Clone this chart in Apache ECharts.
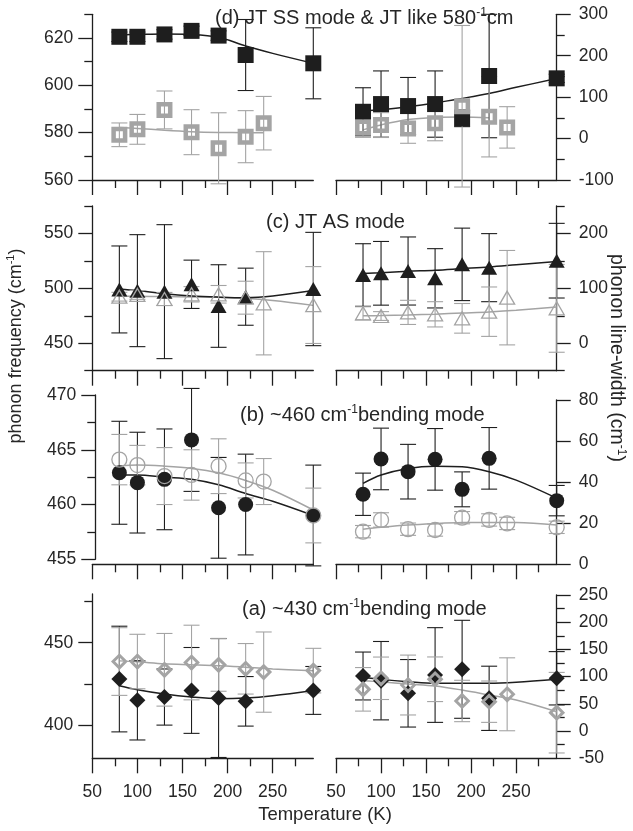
<!DOCTYPE html>
<html>
<head>
<meta charset="utf-8">
<script src="https://cdn.jsdelivr.net/npm/echarts@6/dist/echarts.min.js"></script>
<style>
  html, body { margin: 0; padding: 0; background: #fff; }
  #chart { width: 633px; height: 831px; }
</style>
</head>
<body>
<div id="chart"></div>
<script>
// ---- temperatures (K) ----
const xMajorTicks = [50, 100, 150, 200, 250];
const xMinorTicks = [75, 125, 175, 225, 275];
const tempBlack = [80, 100, 130, 160, 190, 220, 295];
const tempGrey = [80, 100, 130, 160, 190, 220, 240, 295];
const tempGreyD = [80, 100, 130, 160, 190, 220, 240];
const fitTemp = [80, 100, 130, 160, 190, 220, 250, 295];
const fitTempGreyD = [80, 100, 130, 160, 190, 220, 240];
const fitTempGreyDWidth = [80, 100, 130, 160, 190, 220];

// ---- (d) JT SS mode & JT-like 580 mode ----
const dFreqTicks = [560, 580, 600, 620];
const dFreqMinorTicks = [570, 590, 610, 630];
const dWidthTicks = [-100, 0, 100, 200, 300];
const dWidthMinorTicks = [-50, 50, 150, 250];
const dFreqBlack = [620.5, 620.5, 621.5, 623.0, 621.0, 612.8, 609.3];
const dFreqBlackErr = [2, 2, 2, 2, 2, 15, 15];
const dFreqGrey = [579.1, 581.4, 589.6, 580.2, 573.4, 578.3, 584.0];
const dFreqGreyErr = [5, 6.3, 8, 9.5, 15, 11, 11.3];
const dWidthBlack = [64.7, 83.3, 78.5, 83.3, 48.8, 151, 145.4];
const dWidthBlackErr = [58, 80, 69, 80, 20, 149, 10];
const dWidthGrey = [27, 32.6, 24.6, 36.7, 78, 52.7, 27];
const dWidthGreyErr = [24, 30, 36, 42, 195, 97, 50];
const dFreqBlackFit = [621.3, 621.5, 621.7, 621.5, 620.3, 616.6, 613.5, 609.3];
const dFreqGreyFit = [582.2, 581.8, 581.0, 580.4, 580.1, 580.0, 580.0];
const dWidthBlackFit = [66.5, 70, 77, 86, 97, 109, 123.7, 145];
const dWidthGreyFit = [21, 33, 46, 51, 52, 50];

// ---- (c) JT AS mode ----
const cFreqTicks = [450, 500, 550];
const cFreqMinorTicks = [425, 475, 525, 575];
const cWidthTicks = [0, 100, 200];
const cWidthMinorTicks = [-50, 50, 150, 250];
const cFreqBlack = [499.0, 497.9, 497.0, 503.7, 483.9, 492.4, 499.4];
const cFreqBlackErr = [39.6, 51, 61, 22, 37.6, 26, 51.6];
const cFreqGrey = [492.4, 494.0, 490.3, 494.6, 494.6, 491.5, 486.4, 484.8];
const cFreqGreyErr = [4, 4, 6, 7, 8, 15, 47, 35];
const cWidthBlack = [124.3, 127.4, 131.6, 118.3, 143.7, 137.7, 150.4];
const cWidthBlackErr = [57, 58, 62, 54, 66, 62, 68];
const cWidthGrey = [54.5, 49.6, 56.2, 52.7, 45.4, 57.5, 83.0, 63.6];
const cWidthGreyErr = [12, 8, 22, 23, 27, 45, 86, 80];
const cFreqBlackFit = [499.5, 498, 495, 493, 492, 491.5, 493, 498];
const cFreqGreyFit = [493, 492.8, 492.5, 492.2, 491.8, 491, 489, 484.5];
const cWidthBlackFit = [127, 128.5, 131, 133, 136, 139, 143, 149];
const cWidthGreyFit = [50, 50.5, 51.5, 53, 55, 57, 60, 66];

// ---- (b) ~460 cm-1 bending mode ----
const bFreqTicks = [455, 460, 465, 470];
const bFreqMinorTicks = [457.5, 462.5, 467.5];
const bWidthTicks = [0, 20, 40, 60, 80];
const bWidthMinorTicks = [];
const bFreqBlack = [462.9, 462.0, 462.3, 465.9, 459.7, 460.0, 459.0];
const bFreqBlackErr = [4.7, 4.6, 4.6, 4.7, 4.6, 4.6, 4.6];
const bFreqGrey = [464.1, 463.6, 462.6, 462.7, 463.5, 462.2, 462.1, 459.0];
const bFreqGreyErr = [2.3, 1.8, 2.6, 2.3, 2.5, 1.6, 2.1, 2.5];
const bWidthBlack = [34.1, 51.3, 45.1, 51.1, 36.5, 51.6, 31.0];
const bWidthBlackErr = [10.3, 15, 13.3, 15, 8.5, 15, 7.4];
const bWidthGrey = [15.9, 21.6, 17.1, 16.7, 22.7, 21.6, 19.9, 18.0];
const bWidthGreyErr = [3, 3.5, 3, 3, 3, 3, 3, 3];
const bFreqBlackFit = [462.7, 462.7, 462.5, 462.3, 461.8, 461.0, 460.3, 459.0];
const bFreqGreyFit = [463.5, 463.6, 463.5, 463.3, 462.9, 462.2, 461.3, 459.5];
const bWidthBlackFit = [39.4, 43.5, 46.7, 47.8, 47.5, 45.1, 41, 32.2];
const bWidthGreyFit = [17.1, 18, 19.1, 19.8, 20.3, 20.4, 20.3, 19.1];

// ---- (a) ~430 cm-1 bending mode ----
const aFreqTicks = [400, 450];
const aFreqMinorTicks = [425, 475];
const aWidthTicks = [-50, 0, 50, 100, 150, 200, 250];
const aWidthMinorTicks = [-25, 25, 75, 125, 175, 225];
const aFreqBlack = [428.0, 415.1, 417.1, 421.1, 416.5, 414.5, 421.1];
const aFreqBlackErr = [32, 24, 17, 26, 36, 15, 14.5];
const aFreqGrey = [438.6, 438.6, 433.6, 438.0, 436.6, 434.2, 432.2, 433.1];
const aFreqGreyErr = [20.5, 16.5, 22, 22.6, 16, 15.3, 24.3, 13.5];
const aWidthBlack = [101.2, 92.6, 69.4, 103.0, 113.5, 60.2, 97.0];
const aWidthBlackErr = [44, 72, 62, 87, 90, 59, 49];
const aWidthGrey = [76.7, 97.0, 84.6, 95.2, 55.3, 54.0, 67.6, 33.8];
const aWidthGreyErr = [40, 39, 55, 41, 38, 38, 67, 74];
const aFreqBlackFit = [423.9, 421.5, 418.9, 417.1, 416.1, 416.5, 417.9, 421.1];
const aFreqGreyFit = [439, 438.4, 437.2, 436.6, 436, 435.2, 434.1, 433];
const aWidthBlackFit = [98.8, 95, 90.8, 87.8, 87.8, 87.8, 89.7, 95.2];
const aWidthGreyFit = [92.6, 90.5, 86.5, 82.8, 75.4, 66.3, 57, 35.6];

// ---- styling ----
const FONT = '"Liberation Sans", Arial, Helvetica, sans-serif';
const INK = '#1e1e1e';
const TEXT = '#262626';
const GREY = '#a4a4a4';

const markers = {
  d: { black: { symbol: 'rect', size: 16 }, grey: { symbol: 'rect', size: 11.5, border: 4.5 } },
  c: { black: { symbol: 'triangle', size: [16, 14] }, grey: { symbol: 'triangle', size: [15, 13], border: 1.3 } },
  b: { black: { symbol: 'circle', size: 15 }, grey: { symbol: 'circle', size: 15, border: 1.3 } },
  a: { black: { symbol: 'diamond', size: 16 }, grey: { symbol: 'diamond', size: 12.5, border: 3 } }
};

// each panel is split: frequency on the left half, line-width on the right half
const halves = [
  { mk: 'd', side: 'left', left: 92.3, top: 14.3, width: 221, height: 165.7, yMin: 560, yMax: 630,
    major: dFreqTicks, minor: dFreqMinorTicks,
    black: [tempBlack, dFreqBlack, dFreqBlackErr], grey: [tempGreyD, dFreqGrey, dFreqGreyErr],
    blackFit: [fitTemp, dFreqBlackFit], greyFit: [fitTempGreyD, dFreqGreyFit] },
  { mk: 'd', side: 'right', left: 336, top: 14.3, width: 220.7, height: 165.7, yMin: -100, yMax: 300,
    major: dWidthTicks, minor: dWidthMinorTicks,
    black: [tempBlack, dWidthBlack, dWidthBlackErr], grey: [tempGreyD, dWidthGrey, dWidthGreyErr],
    blackFit: [fitTemp, dWidthBlackFit], greyFit: [fitTempGreyDWidth, dWidthGreyFit] },
  { mk: 'c', side: 'left', left: 92.3, top: 206, width: 221, height: 164.7, yMin: 425, yMax: 575,
    major: cFreqTicks, minor: cFreqMinorTicks,
    black: [tempBlack, cFreqBlack, cFreqBlackErr], grey: [tempGrey, cFreqGrey, cFreqGreyErr],
    blackFit: [fitTemp, cFreqBlackFit], greyFit: [fitTemp, cFreqGreyFit] },
  { mk: 'c', side: 'right', left: 336, top: 206, width: 220.7, height: 164.7, yMin: -50, yMax: 250,
    major: cWidthTicks, minor: cWidthMinorTicks,
    black: [tempBlack, cWidthBlack, cWidthBlackErr], grey: [tempGrey, cWidthGrey, cWidthGreyErr],
    blackFit: [fitTemp, cWidthBlackFit], greyFit: [fitTemp, cWidthGreyFit] },
  { mk: 'b', side: 'left', left: 92.3, top: 395, width: 221, height: 164.3, yMin: 455, yMax: 470,
    xOffset: 5, yOffset: -3,
    major: bFreqTicks, minor: bFreqMinorTicks,
    black: [tempBlack, bFreqBlack, bFreqBlackErr], grey: [tempGrey, bFreqGrey, bFreqGreyErr],
    blackFit: [fitTemp, bFreqBlackFit], greyFit: [fitTemp, bFreqGreyFit] },
  { mk: 'b', side: 'right', left: 336, top: 400, width: 220.7, height: 164.3, yMin: 0, yMax: 80,
    major: bWidthTicks, minor: bWidthMinorTicks,
    black: [tempBlack, bWidthBlack, bWidthBlackErr], grey: [tempGrey, bWidthGrey, bWidthGreyErr],
    blackFit: [fitTemp, bWidthBlackFit], greyFit: [fitTemp, bWidthGreyFit] },
  { mk: 'a', side: 'left', left: 92.3, top: 594, width: 221, height: 164.3, yMin: 380, yMax: 479.5,
    major: aFreqTicks, minor: aFreqMinorTicks, xLabels: true,
    black: [tempBlack, aFreqBlack, aFreqBlackErr], grey: [tempGrey, aFreqGrey, aFreqGreyErr],
    blackFit: [fitTemp, aFreqBlackFit], greyFit: [fitTemp, aFreqGreyFit] },
  { mk: 'a', side: 'right', left: 336, top: 595, width: 220.7, height: 163.3, yMin: -50, yMax: 250,
    major: aWidthTicks, minor: aWidthMinorTicks, xLabels: true,
    black: [tempBlack, aWidthBlack, aWidthBlackErr], grey: [tempGrey, aWidthGrey, aWidthGreyErr],
    blackFit: [fitTemp, aWidthBlackFit], greyFit: [fitTemp, aWidthGreyFit] }
];

function points(t, v, e) {
  return t.map((x, i) => e ? [x, v[i], e[i]] : [x, v[i]]);
}

// vertical error bar with caps, positioned through the axis scales
function errorBar(color) {
  return function (params, api) {
    const x = api.value(0), y = api.value(1), e = api.value(2);
    const hi = api.coord([x, y + e]);
    const lo = api.coord([x, y - e]);
    const cap = 8;
    const st = { stroke: color, lineWidth: 1.1, fill: null };
    return {
      type: 'group',
      children: [
        { type: 'line', shape: { x1: hi[0], y1: hi[1], x2: lo[0], y2: lo[1] }, style: st },
        { type: 'line', shape: { x1: hi[0] - cap, y1: hi[1], x2: hi[0] + cap, y2: hi[1] }, style: st },
        { type: 'line', shape: { x1: lo[0] - cap, y1: lo[1], x2: lo[0] + cap, y2: lo[1] }, style: st }
      ]
    };
  };
}

const grid = [], xAxis = [], yAxis = [], series = [];
const tickLine = { color: INK, width: 1.3 };

halves.forEach((h, g) => {
  grid.push({ left: h.left, top: h.top, width: h.width, height: h.height,
    containLabel: false, outerBoundsMode: 'none' });

  const xi = xAxis.length;
  xAxis.push({
    gridIndex: g, type: 'value', min: 50, max: 295, position: 'bottom', offset: h.xOffset || 0,
    axisLine: { show: true, onZero: false, lineStyle: tickLine },
    axisTick: { show: true, customValues: xMajorTicks, length: 15, lineStyle: tickLine },
    axisLabel: { show: !!h.xLabels, customValues: xMajorTicks, fontSize: 17.5, fontFamily: FONT,
      color: TEXT, margin: 25 },
    splitLine: { show: false }
  });
  xAxis.push({
    gridIndex: g, type: 'value', min: 50, max: 295, position: 'bottom', offset: h.xOffset || 0,
    axisLine: { show: false, onZero: false },
    axisTick: { show: true, customValues: xMinorTicks, length: 8, lineStyle: tickLine },
    axisLabel: { show: false }, splitLine: { show: false }
  });

  const yi = yAxis.length;
  yAxis.push({
    gridIndex: g, type: 'value', min: h.yMin, max: h.yMax, position: h.side, offset: h.yOffset || 0,
    axisLine: { show: true, onZero: false, lineStyle: tickLine },
    axisTick: { show: true, customValues: h.major, length: 14, lineStyle: tickLine },
    axisLabel: { show: true, customValues: h.major, fontSize: 17.5, fontFamily: FONT, color: TEXT,
      margin: h.side === 'left' ? 19 : 22 },
    splitLine: { show: false }
  });
  yAxis.push({
    gridIndex: g, type: 'value', min: h.yMin, max: h.yMax, position: h.side, offset: h.yOffset || 0,
    axisLine: { show: false, onZero: false },
    axisTick: { show: h.minor.length > 0, customValues: h.minor, length: 8, lineStyle: tickLine },
    axisLabel: { show: false }, splitLine: { show: false }
  });

  const mk = markers[h.mk];
  const common = { xAxisIndex: xi, yAxisIndex: yi, silent: true, animation: false, clip: false };

  series.push(Object.assign({}, common, {
    type: 'line', data: points(h.greyFit[0], h.greyFit[1]), smooth: 0.35, showSymbol: false,
    symbol: 'none', lineStyle: { color: GREY, width: 1.5 }, z: 2
  }));
  series.push(Object.assign({}, common, {
    type: 'line', data: points(h.blackFit[0], h.blackFit[1]), smooth: 0.35, showSymbol: false,
    symbol: 'none', lineStyle: { color: INK, width: 1.5 }, z: 2
  }));
  series.push(Object.assign({}, common, {
    type: 'custom', renderItem: errorBar(INK), encode: { x: 0, y: 1 },
    data: points(h.black[0], h.black[1], h.black[2]), z: 3
  }));
  series.push(Object.assign({}, common, {
    type: 'custom', renderItem: errorBar(GREY), encode: { x: 0, y: 1 },
    data: points(h.grey[0], h.grey[1], h.grey[2]), z: 3
  }));
  series.push(Object.assign({}, common, {
    type: 'scatter', data: points(h.black[0], h.black[1]), symbol: mk.black.symbol,
    symbolSize: mk.black.size, itemStyle: { color: INK, opacity: 1 }, z: 4
  }));
  series.push(Object.assign({}, common, {
    type: 'scatter', data: points(h.grey[0], h.grey[1]), symbol: mk.grey.symbol,
    symbolSize: mk.grey.size,
    itemStyle: { color: 'rgba(255,255,255,0)', borderColor: GREY, borderWidth: mk.grey.border, opacity: 1 },
    z: 5
  }));
});

const supStyle = { fontSize: 12, fontFamily: FONT, fill: TEXT, padding: [0, 0, 10, 0] };
function label(x, y, text, size, rotation, align) {
  return {
    type: 'text', x: x, y: y, rotation: rotation || 0, silent: true, z: 10,
    style: {
      text: text, fill: TEXT, fontSize: size, fontFamily: FONT,
      align: align || 'left', verticalAlign: 'middle',
      rich: { sup: Object.assign({}, supStyle, { fontSize: Math.round(size * 0.62) }) }
    }
  };
}

const graphic = [
  label(215, 18, '(d) JT SS mode & JT like 580{sup|-1}cm', 20),
  label(266, 222, '(c) JT AS mode', 20),
  label(240, 415, '(b) ~460 cm{sup|-1}bending mode', 20),
  label(242, 609, '(a) ~430 cm{sup|-1}bending mode', 20),
  label(16, 346, 'phonon frequency (cm{sup|-1})', 18, Math.PI / 2, 'center'),
  label(616, 358, 'phonon line-width (cm{sup|-1})', 19.5, -Math.PI / 2, 'center'),
  label(325, 815, 'Temperature (K)', 18.5, 0, 'center')
];

const chart = echarts.init(document.getElementById('chart'), null, { renderer: 'canvas' });
chart.setOption({
  animation: false,
  backgroundColor: '#ffffff',
  grid: grid,
  xAxis: xAxis,
  yAxis: yAxis,
  series: series,
  graphic: graphic
});
</script>
</body>
</html>
